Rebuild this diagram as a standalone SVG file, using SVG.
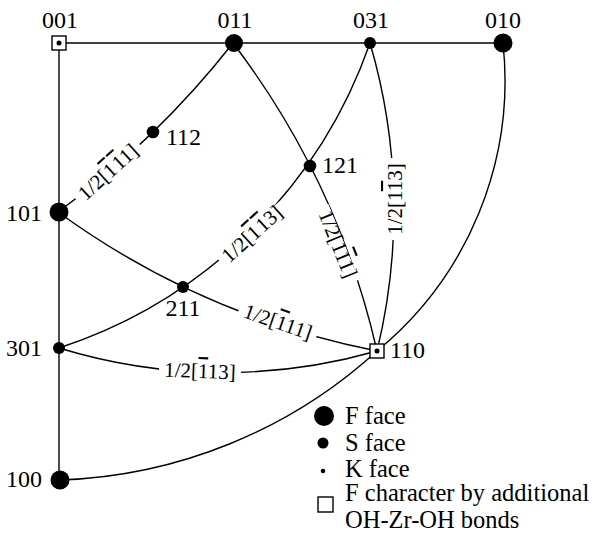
<svg xmlns="http://www.w3.org/2000/svg" width="597" height="534" viewBox="0 0 597 534">
<style>
.e{fill:none;stroke:#000;stroke-width:1.4}
.f{fill:#000}
.sq{fill:#fff;stroke:#000;stroke-width:1.4}
text{font-family:"Liberation Serif","DejaVu Serif",serif;fill:#000}
.t{font-size:24px}
.l{font-size:21px;text-anchor:middle}
.g{font-size:24.5px}
.o{text-decoration:overline}
.bg{fill:#fff}
</style>
<rect width="597" height="534" fill="#fff"/>
<g id="connectors">
<path class="e" d="M59,43 H503"/>
<path class="e" d="M59,43 V480"/>
<path class="e" d="M58,212 A880,880 0 0 0 233,43"/>
<path class="e" d="M233,43 A804,804 0 0 1 377,351"/>
<path class="e" d="M370,43 A491,491 0 0 1 59,348"/>
<path class="e" d="M58,212 A808,808 0 0 0 377,351"/>
<path class="e" d="M59,348 A559,559 0 0 0 377,351"/>
<path class="e" d="M370,43 A594,594 0 0 1 377,351"/>
<path class="e" d="M503,43 A350,350 0 0 1 377,351"/>
<path class="e" d="M60,480 A495,495 0 0 0 377,351"/>
</g>
<g id="edge-labels">
<g transform="translate(108,172) rotate(-42)"><rect class="bg" x="-42" y="-6" width="84" height="12"/><text class="l" y="7">1/2[<tspan class="o">1</tspan><tspan class="o" dx="2">1</tspan>1]</text></g>
<g transform="translate(252,234) rotate(-42)"><rect class="bg" x="-42" y="-6" width="84" height="12"/><text class="l" y="7">1/2[<tspan class="o">1</tspan><tspan class="o" dx="2">1</tspan>3]</text></g>
<g transform="translate(338,244) rotate(68)"><rect class="bg" x="-41" y="-6" width="82" height="12"/><text class="l" y="7">1/2[1<tspan class="o">1</tspan>1]</text></g>
<g transform="translate(278,322) rotate(19)"><rect class="bg" x="-41" y="-6" width="82" height="12"/><text class="l" y="7">1/2[<tspan class="o">1</tspan>11]</text></g>
<g transform="translate(395,199) rotate(-90)"><rect class="bg" x="-41" y="-6" width="82" height="12"/><text class="l" y="7">1/2[1<tspan class="o">1</tspan>3]</text></g>
<g transform="translate(200,371) rotate(2)"><rect class="bg" x="-41" y="-6" width="82" height="12"/><text class="l" y="7">1/2[<tspan class="o">1</tspan>13]</text></g>
</g>
<g id="n001"><rect class="sq" x="52" y="36" width="14" height="14"/><circle class="f" cx="59" cy="43" r="2.5"/><text class="t" x="60" y="28" text-anchor="middle">001</text></g>
<g id="n011"><circle class="f" cx="234" cy="43" r="9"/><text class="t" x="235" y="28" text-anchor="middle">011</text></g>
<g id="n031"><circle class="f" cx="370" cy="43" r="6"/><text class="t" x="371" y="28" text-anchor="middle">031</text></g>
<g id="n010"><circle class="f" cx="503" cy="43" r="9.5"/><text class="t" x="503" y="28" text-anchor="middle">010</text></g>
<g id="n112"><circle class="f" cx="153" cy="132" r="6.3"/><text class="t" x="166" y="145">112</text></g>
<g id="n121"><circle class="f" cx="310" cy="166" r="6.3"/><text class="t" x="322" y="173">121</text></g>
<g id="n101"><circle class="f" cx="59" cy="212" r="9.5"/><text class="t" x="42" y="221" text-anchor="end">101</text></g>
<g id="n211"><circle class="f" cx="183" cy="287" r="6"/><text class="t" x="183" y="316" text-anchor="middle">211</text></g>
<g id="n301"><circle class="f" cx="59" cy="348" r="6"/><text class="t" x="42" y="356" text-anchor="end">301</text></g>
<g id="n110"><rect class="sq" x="370" y="344" width="14" height="14"/><circle class="f" cx="377" cy="351" r="2.5"/><text class="t" x="390" y="358">110</text></g>
<g id="n100"><circle class="f" cx="60" cy="480" r="9.5"/><text class="t" x="42" y="487" text-anchor="end">100</text></g>
<g id="legend">
<circle class="f" cx="324" cy="416" r="10"/><text class="g" x="345" y="424">F face</text>
<circle class="f" cx="323" cy="443" r="5.5"/><text class="g" x="345" y="451">S face</text>
<circle class="f" cx="323" cy="471" r="2.3"/><text class="g" x="345" y="477">K face</text>
<rect class="sq" x="318" y="497" width="15" height="15"/><text class="g" x="345" y="501">F character by additional</text>
<text class="g" x="345" y="528">OH-Zr-OH bonds</text>
</g>
</svg>
